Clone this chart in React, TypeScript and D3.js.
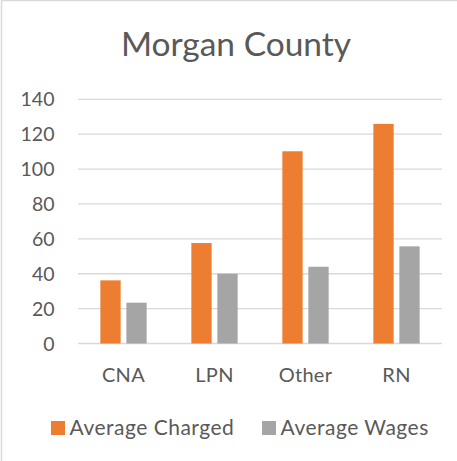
import React, { useRef, useEffect } from 'react';
import * as d3 from 'd3';

const categories = ['CNA', 'LPN', 'Other', 'RN'];
const seriesNames = ['Average Charged', 'Average Wages'];
const averageCharged = [36.2, 57.6, 110.2, 125.9];
const averageWages = [23.4, 40, 44, 55.7];
const yTicks = [0, 20, 40, 60, 80, 100, 120, 140];
const colors = ['#ED7D31', '#A5A5A5'];

const App = () => {
  const svgRef = useRef<SVGSVGElement>(null);

  useEffect(() => {
    const width = 457;
    const height = 461;
    const font = 'Lato, "Open Sans", sans-serif';
    const textColor = '#595959';

    const svg = d3.select(svgRef.current);
    svg.selectAll('*').remove();
    svg.attr('width', width).attr('height', height);

    // chart area border (only top and left visible in the crop)
    svg.append('rect')
      .attr('x', 1.5)
      .attr('y', 0.5)
      .attr('width', width + 10)
      .attr('height', height + 10)
      .attr('fill', 'white')
      .attr('stroke', '#d9d9d9')
      .attr('stroke-width', 1.5);

    // title
    svg.append('text')
      .attr('x', 236)
      .attr('y', 56)
      .attr('text-anchor', 'middle')
      .style('font-family', font)
      .style('font-size', '33.5px')
      .style('fill', textColor)
      .text('Morgan County');

    const plot = { left: 78, right: 442, top: 99.3, bottom: 343.5 };

    const x = d3.scaleBand()
      .domain(categories)
      .range([plot.left, plot.right]);

    const y = d3.scaleLinear()
      .domain([0, 140])
      .range([plot.bottom, plot.top]);

    // gridlines
    svg.append('g')
      .selectAll('line')
      .data(yTicks)
      .enter()
      .append('line')
      .attr('x1', plot.left)
      .attr('x2', plot.right)
      .attr('y1', d => y(d))
      .attr('y2', d => y(d))
      .attr('stroke', '#d9d9d9')
      .attr('stroke-width', 1.3);

    // y tick labels
    svg.append('g')
      .selectAll('text')
      .data(yTicks)
      .enter()
      .append('text')
      .attr('x', 54.5)
      .attr('y', d => y(d))
      .attr('dy', '0.36em')
      .attr('text-anchor', 'end')
      .style('font-family', font)
      .style('font-size', '19.5px')
      .style('fill', textColor)
      .text(d => d);

    // bars
    const barW = 20.3;
    const gap = 5.7;
    const series = [averageCharged, averageWages];
    series.forEach((values, si) => {
      svg.append('g')
        .selectAll('rect')
        .data(values)
        .enter()
        .append('rect')
        .attr('x', (d, i) => x(categories[i])! + x.bandwidth() / 2 - barW - gap / 2 + si * (barW + gap))
        .attr('y', d => y(d))
        .attr('width', barW)
        .attr('height', d => y(0) - y(d))
        .attr('fill', colors[si]);
    });

    // category labels
    svg.append('g')
      .selectAll('text')
      .data(categories)
      .enter()
      .append('text')
      .attr('x', d => x(d)! + x.bandwidth() / 2)
      .attr('y', 381.7)
      .attr('text-anchor', 'middle')
      .style('font-family', font)
      .style('font-size', '20px')
      .style('letter-spacing', '0.3px')
      .style('fill', textColor)
      .text(d => d);

    // legend
    const legendX = [51, 262];
    const legend = svg.append('g')
      .selectAll('g')
      .data(seriesNames)
      .enter()
      .append('g')
      .attr('transform', (d, i) => `translate(${legendX[i]},421)`);

    legend.append('rect')
      .attr('width', 14)
      .attr('height', 14)
      .attr('fill', (d, i) => colors[i]);

    legend.append('text')
      .attr('x', 18.5)
      .attr('y', 13.6)
      .style('font-family', font)
      .style('font-size', '21px')
      .style('letter-spacing', '0.5px')
      .style('fill', textColor)
      .text(d => d);
  }, []);

  return (
    <div style={{ position: 'absolute', left: 0, top: 0 }}>
      <svg ref={svgRef}></svg>
    </div>
  );
};

export default App;
